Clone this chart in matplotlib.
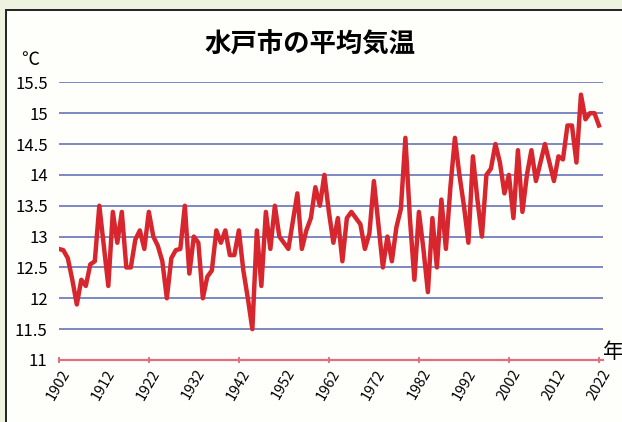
import matplotlib
matplotlib.use('Agg')
import matplotlib.pyplot as plt
from matplotlib.patches import Rectangle
from matplotlib.ticker import FixedLocator

plt.rcParams['font.family'] = ['Noto Sans CJK JP', 'DejaVu Sans']

# annual mean temperature in Mito, 1902-2022
years = list(range(1902, 2023))
temps = [
    12.8, 12.78, 12.65, 12.3, 11.9, 12.3, 12.2, 12.55, 12.6, 13.5,    # 1902-1911
    12.85, 12.2, 13.4, 12.9, 13.4, 12.5, 12.5, 12.95, 13.1, 12.8,     # 1912-1921
    13.4, 13.0, 12.85, 12.6, 12.0, 12.65, 12.78, 12.8, 13.5, 12.4,    # 1922-1931
    13.0, 12.9, 12.0, 12.35, 12.45, 13.1, 12.9, 13.1, 12.7, 12.7,     # 1932-1941
    13.1, 12.45, 12.0, 11.5, 13.1, 12.2, 13.4, 12.8, 13.5, 13.0,      # 1942-1951
    12.9, 12.8, 13.25, 13.7, 12.8, 13.1, 13.3, 13.8, 13.5, 14.0,      # 1952-1961
    13.4, 12.9, 13.3, 12.6, 13.3, 13.4, 13.3, 13.2, 12.8, 13.05,      # 1962-1971
    13.9, 13.2, 12.5, 13.0, 12.6, 13.15, 13.45, 14.6, 13.3, 12.3,     # 1972-1981
    13.4, 12.8, 12.1, 13.3, 12.5, 13.6, 12.8, 13.8, 14.6, 14.0,       # 1982-1991
    13.5, 12.9, 14.3, 13.6, 13.0, 14.0, 14.1, 14.5, 14.2, 13.7,       # 1992-2001
    14.0, 13.3, 14.4, 13.4, 14.0, 14.4, 13.9, 14.2, 14.5, 14.2,       # 2002-2011
    13.9, 14.3, 14.25, 14.8, 14.8, 14.2, 15.3, 14.9, 15.0, 15.0,      # 2012-2021
    14.8,                                                             # 2022
]
label_years = list(range(1902, 2023, 10))
tick_years = list(range(1902, 2023, 20))
y_ticks = [11, 11.5, 12, 12.5, 13, 13.5, 14, 14.5, 15, 15.5]

fig = plt.figure(figsize=(6.22, 4.22), dpi=100)
fig.patch.set_facecolor('#eef3df')

# white panel with black frame (scanned page look)
panel = Rectangle((6 / 622, -0.1), 1.2, 1 - 10 / 422 + 0.1,
                  transform=fig.transFigure, facecolor='#fefefb',
                  edgecolor='#222222', linewidth=1.4, zorder=-5)
fig.add_artist(panel)

ax = fig.add_axes([58.8 / 622, 1 - 360 / 422, (603 - 58.8) / 622, (360 - 82.3) / 422])
ax.set_facecolor('none')
ax.set_zorder(2)

ax.plot(years, temps, color='#d8262e', linewidth=3.2, zorder=3)

ax.set_xlim(1902, 2022.9)
ax.set_ylim(11, 15.5)

ax.set_yticks(y_ticks)
ax.set_yticklabels([f'{v:g}' for v in y_ticks])
ax.tick_params(axis='y', length=0, pad=8, labelsize=12)
for v in y_ticks[1:]:
    ax.axhline(v, color='#5a68b4', linewidth=1.1, zorder=1)

# labels every 10 years, small tick marks every 20 years
ax.xaxis.remove_overlapping_locs = False
ax.xaxis.set_major_locator(FixedLocator(label_years))
ax.xaxis.set_minor_locator(FixedLocator(tick_years))
ax.set_xticklabels([str(y) for y in label_years], rotation=60, ha='center', va='top')
ax.tick_params(axis='x', which='major', length=0, pad=5, labelsize=10.5)
ax.tick_params(axis='x', which='minor', length=5, width=1.2, color='#d86070', direction='inout')

for side in ['top', 'right', 'left']:
    ax.spines[side].set_visible(False)
ax.spines['bottom'].set_color('#e07080')
ax.spines['bottom'].set_linewidth(1.6)

fig.text(310 / 622, 1 - 45 / 422, '水戸市の平均気温', ha='center', va='center',
         fontsize=19, fontweight='bold')
fig.text(30 / 622, 1 - 60 / 422, '℃', ha='center', va='center', fontsize=13)
fig.text(613 / 622, 1 - 352 / 422, '年', ha='center', va='center', fontsize=15)

fig.savefig('out.png', dpi=100, facecolor=fig.get_facecolor())
